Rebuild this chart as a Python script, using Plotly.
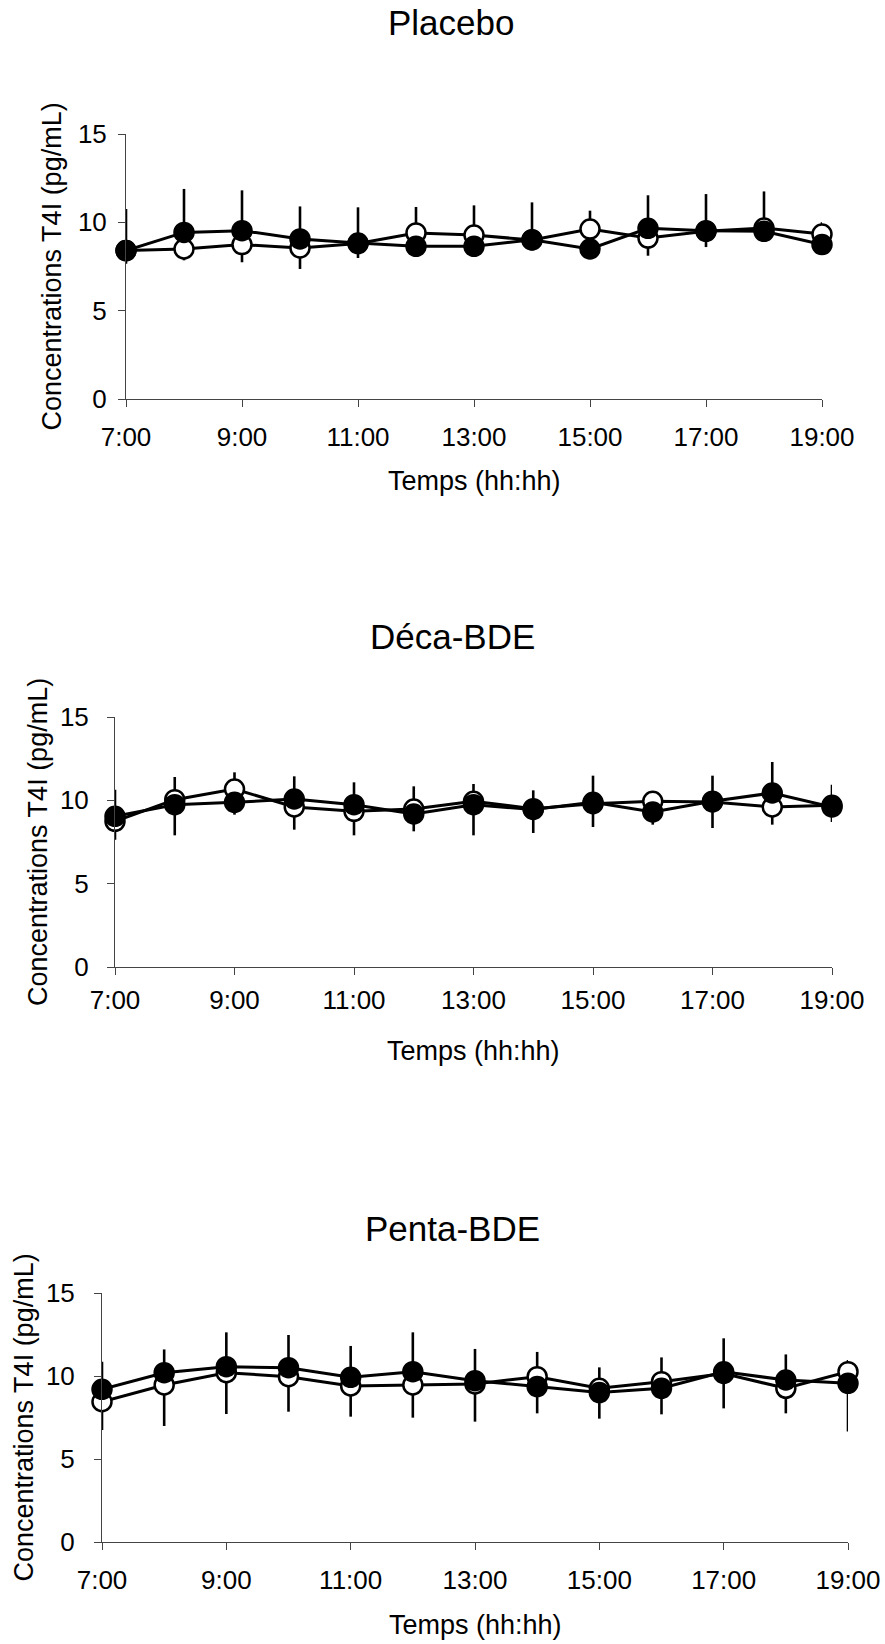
import plotly.graph_objects as go

W, H = 885, 1644

hours = [7, 8, 9, 10, 11, 12, 13, 14, 15, 16, 17, 18, 19]
tick_hours = [7, 9, 11, 13, 15, 17, 19]
tick_labels = ["7:00", "9:00", "11:00", "13:00", "15:00", "17:00", "19:00"]
y_ticks = [0, 5, 10, 15]

panel_titles = ["Placebo", "Déca-BDE", "Penta-BDE"]
x_title = "Temps (hh:hh)"
y_title = "Concentrations T4I (pg/mL)"

# Placebo
placebo_filled = [8.4, 9.43, 9.53, 9.06, 8.83, 8.64, 8.64, 9.02, 8.49, 9.66, 9.53, 9.49, 8.74]
placebo_filled_up = [2.35, 2.46, 2.28, 1.84, 2.02, 0, 0, 2.11, 0, 1.87, 2.07, 0, 0]
placebo_filled_dn = [0, 0, 0, 0, 0, 0, 0, 0, 0, 0, 0, 0, 0]
placebo_open = [8.4, 8.49, 8.74, 8.55, 8.8, 9.4, 9.28, 9.0, 9.62, 9.11, 9.49, 9.68, 9.34]
placebo_open_up = [0, 0, 0, 0, 0, 1.47, 1.68, 0, 1.04, 0, 0, 2.07, 0.66]
placebo_open_dn = [0.75, 0.64, 1.0, 1.19, 0.82, 0, 0, 0, 0, 1.0, 0.89, 0, 0]

# Deca-BDE
deca_filled = [9.04, 9.74, 9.88, 10.08, 9.74, 9.18, 9.74, 9.45, 9.88, 9.3, 9.95, 10.44, 9.6]
deca_filled_up = [1.6, 0, 0, 1.36, 1.34, 0, 0, 0, 1.6, 0, 1.53, 1.86, 0]
deca_filled_dn = [0, 1.84, 0.74, 0, 0, 1.04, 1.84, 1.41, 0, 0.76, 0, 0, 0.9]
deca_open = [8.74, 10.04, 10.68, 9.6, 9.34, 9.48, 9.94, 9.5, 9.8, 9.94, 9.9, 9.6, 9.7]
deca_open_up = [0, 1.36, 1.0, 0, 0, 1.36, 1.04, 1.1, 0, 0.5, 0, 0, 1.24]
deca_open_dn = [1.1, 0, 0, 1.36, 1.44, 0, 0, 0, 1.4, 0, 1.56, 1.06, 0]

# Penta-BDE
penta_filled = [9.2, 10.2, 10.56, 10.5, 9.92, 10.26, 9.72, 9.36, 9.0, 9.26, 10.25, 9.76, 9.56]
penta_filled_up = [1.66, 1.4, 2.07, 1.97, 1.89, 2.37, 1.91, 0, 0, 0, 2.02, 1.54, 0]
penta_filled_dn = [0, 0, 0, 0, 0, 0, 0, 1.61, 1.57, 1.57, 0, 0, 2.9]
penta_open = [8.45, 9.46, 10.2, 9.96, 9.4, 9.46, 9.52, 9.96, 9.26, 9.66, 10.15, 9.26, 10.26]
penta_open_up = [0, 0, 0, 0, 0, 0, 0, 1.49, 1.26, 1.46, 0, 0, 0.7]
penta_open_dn = [1.7, 2.47, 2.49, 2.11, 1.85, 1.97, 2.27, 0, 0, 0, 2.1, 1.51, 0]

panels = [
    (placebo_open, placebo_open_up, placebo_open_dn, placebo_filled, placebo_filled_up, placebo_filled_dn),
    (deca_open, deca_open_up, deca_open_dn, deca_filled, deca_filled_up, deca_filled_dn),
    (penta_open, penta_open_up, penta_open_dn, penta_filled, penta_filled_up, penta_filled_dn),
]

# layout geometry (pixels)
plot_boxes = [(126, 822, 134, 399), (115, 832, 717, 967), (102, 848, 1293, 1542)]
title_pos = [(451, 23), (452, 636), (452, 1228)]
ytitle_x = [52, 38, 23]
xtitle_y = [481, 1051, 1625]
xtick_standoff = [8, 3, 8]
ytick_standoff = [6, 13, 14]

FONT = "Liberation Sans, Arial, sans-serif"
TICK_SIZE = 26

fig = go.Figure()
layout = dict(
    template="none",
    width=W, height=H, margin=dict(l=0, r=0, t=0, b=0, pad=0),
    paper_bgcolor="white", plot_bgcolor="white", showlegend=False,
    font=dict(family=FONT, color="black", size=24),
)
annotations = []

for i, (o, ou, od, f, fu, fd) in enumerate(panels):
    sfx = "" if i == 0 else str(i + 1)
    xa, ya = "x" + sfx, "y" + sfx
    for vals, up, dn, filled in [(o, ou, od, False), (f, fu, fd, True)]:
        fig.add_trace(go.Scatter(
            x=hours, y=vals, xaxis=xa, yaxis=ya, mode="lines+markers",
            cliponaxis=False,
            line=dict(color="black", width=3),
            marker=dict(symbol="circle", size=19,
                        color="black" if filled else "white",
                        line=dict(color="black", width=2.5)),
            error_y=dict(type="data", symmetric=False, array=up, arrayminus=dn,
                         thickness=2.6, width=0, color="black"),
        ))
    x0, x1, y0, y1 = plot_boxes[i]
    layout["xaxis" + sfx] = dict(
        domain=[x0 / W, x1 / W], anchor=ya, range=[7, 19], automargin=False,
        tickvals=tick_hours, ticktext=tick_labels, ticks="outside", ticklen=7,
        tickwidth=1, tickcolor="#444", showline=True, linecolor="#444", linewidth=1,
        showgrid=False, zeroline=False, tickfont=dict(size=TICK_SIZE, family=FONT, color="black"),
        ticklabelstandoff=xtick_standoff[i],
    )
    layout["yaxis" + sfx] = dict(
        domain=[1 - y1 / H, 1 - y0 / H], anchor=xa, range=[0, 15], automargin=False,
        tickvals=y_ticks, ticks="outside", ticklen=7,
        tickwidth=1, tickcolor="#444", showline=True, linecolor="#444", linewidth=1,
        showgrid=False, zeroline=False, tickfont=dict(size=TICK_SIZE, family=FONT, color="black"),
        ticklabelstandoff=ytick_standoff[i],
    )
    tx, ty = title_pos[i]
    annotations.append(dict(text=panel_titles[i], x=tx / W, y=1 - ty / H,
                            xref="paper", yref="paper", showarrow=False,
                            xanchor="center", yanchor="middle",
                            font=dict(size=35, family=FONT, color="black")))
    annotations.append(dict(text=x_title, x=(x0 + x1) / 2 / W, y=1 - xtitle_y[i] / H,
                            xref="paper", yref="paper", showarrow=False,
                            xanchor="center", yanchor="middle",
                            font=dict(size=27, family=FONT, color="black")))
    annotations.append(dict(text=y_title, x=ytitle_x[i] / W, y=1 - (y0 + y1) / 2 / H,
                            xref="paper", yref="paper", showarrow=False, textangle=-90,
                            xanchor="center", yanchor="middle",
                            font=dict(size=27, family=FONT, color="black")))

layout["annotations"] = annotations
fig.update_layout(**layout)
fig.write_html("out.html")
